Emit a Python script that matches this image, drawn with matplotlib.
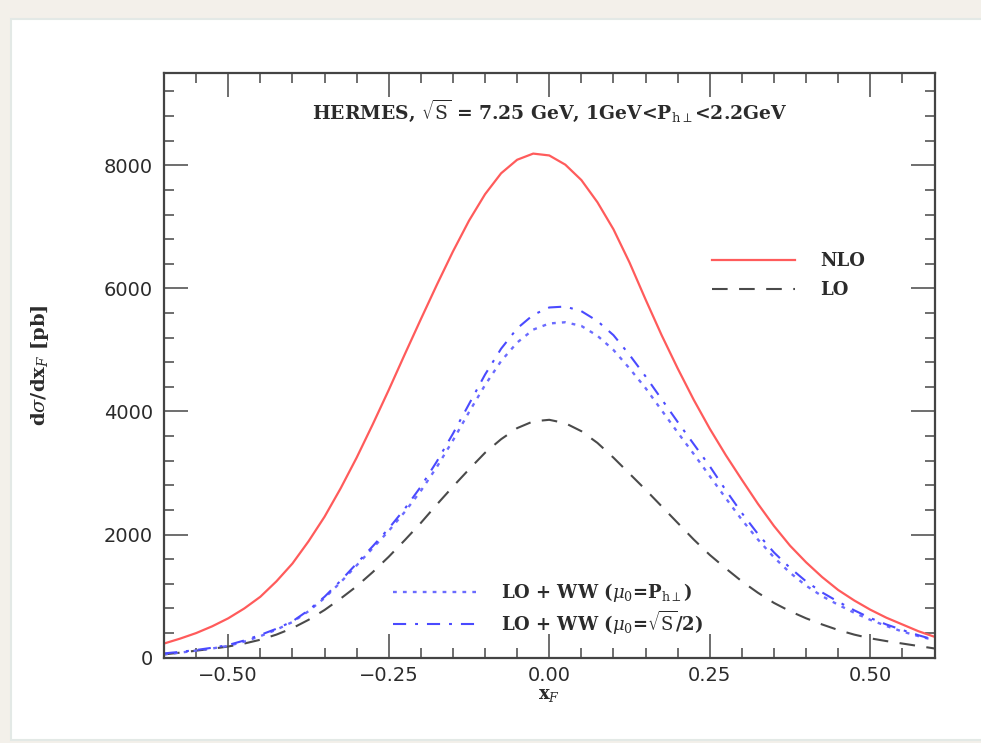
import matplotlib
matplotlib.use("Agg")
import matplotlib.pyplot as plt
from matplotlib.patches import Rectangle
from matplotlib.ticker import MultipleLocator, FixedFormatter, FixedLocator

plt.rcParams['mathtext.fontset'] = 'dejavuserif'

# x_F grid, step 0.025
xf = [-0.600, -0.575, -0.550, -0.525, -0.500, -0.475, -0.450, -0.425, -0.400,
      -0.375, -0.350, -0.325, -0.300, -0.275, -0.250, -0.225, -0.200,
      -0.175, -0.150, -0.125, -0.100, -0.075, -0.050, -0.025, 0.000,
      0.025, 0.050, 0.075, 0.100, 0.125, 0.150, 0.175, 0.200,
      0.225, 0.250, 0.275, 0.300, 0.325, 0.350, 0.375, 0.400,
      0.425, 0.450, 0.475, 0.500, 0.525, 0.550, 0.575, 0.600]

nlo = [230, 310, 400, 510, 640, 800, 990, 1240, 1530,
       1890, 2290, 2750, 3250, 3790, 4350, 4930, 5500,
       6060, 6600, 7100, 7530, 7870, 8090, 8190, 8160,
       8010, 7760, 7400, 6960, 6420, 5820, 5240, 4700,
       4190, 3720, 3290, 2890, 2500, 2140, 1820, 1550,
       1310, 1100, 930, 780, 650, 540, 430, 340]

lo = [54, 82, 114, 145, 182, 230, 292, 375, 480,
      615, 775, 960, 1160, 1390, 1640, 1910, 2190,
      2490, 2780, 3060, 3330, 3550, 3730, 3840, 3865,
      3810, 3680, 3490, 3250, 2990, 2730, 2460, 2190,
      1920, 1670, 1450, 1240, 1055, 890, 755, 640,
      540, 450, 375, 315, 270, 230, 190, 150]

ww_sqrt = [70, 95, 125, 162, 206, 280, 370, 470, 590,
           770, 990, 1250, 1530, 1810, 2100, 2420, 2780,
           3190, 3640, 4120, 4600, 5020, 5350, 5570, 5690,
           5705, 5630, 5470, 5240, 4920, 4570, 4200, 3830,
           3470, 3110, 2720, 2350, 2010, 1710, 1460, 1240,
           1060, 910, 770, 645, 540, 450, 365, 290]

ww_ph = [55, 82, 115, 150, 192, 262, 350, 455, 580,
         755, 970, 1225, 1500, 1780, 2060, 2370, 2710,
         3100, 3530, 3990, 4430, 4820, 5120, 5330, 5430,
         5450, 5390, 5230, 5000, 4700, 4380, 4020, 3660,
         3310, 2950, 2590, 2240, 1920, 1630, 1380, 1170,
         1000, 860, 730, 615, 515, 425, 350, 285]

xticks = [-0.50, -0.25, 0.00, 0.25, 0.50]
xlabels = ['\u22120.50', '\u22120.25', '0.00', '0.25', '0.50']
yticks = [0, 2000, 4000, 6000, 8000]

serif = 'DejaVu Serif'
txtcol = '#2b2b2b'

fig = plt.figure(figsize=(9.81, 7.43), dpi=100)
fig.patch.set_facecolor('#f3f0ea')
panel = Rectangle((11 / 981, 3 / 743), 1, 721 / 743, transform=fig.transFigure,
                  facecolor='white', edgecolor='#e3e9e6', lw=1.5, zorder=-5)
fig.add_artist(panel)

ax = fig.add_axes([0.1672, 0.1148, 0.7854, 0.787])
ax.set_facecolor('white')

l_nlo, = ax.plot(xf, nlo, color='#ff5b5b', lw=1.6)
l_lo, = ax.plot(xf, lo, color='#4a4a4a', lw=1.5, dashes=(7.5, 5.5))
l_ph, = ax.plot(xf, ww_ph, color='#6b6bff', lw=1.7, dashes=(1.6, 2.6))
l_sq, = ax.plot(xf, ww_sqrt, color='#4a4aff', lw=1.5, dashes=(6.3, 4.3, 1.4, 4.3))

ax.set_xlim(-0.6, 0.6)
ax.set_ylim(0, 9500)

ax.xaxis.set_major_locator(FixedLocator(xticks))
ax.xaxis.set_major_formatter(FixedFormatter(xlabels))
ax.xaxis.set_minor_locator(MultipleLocator(0.05))
ax.yaxis.set_major_locator(FixedLocator(yticks))
ax.yaxis.set_minor_locator(MultipleLocator(400))

ax.tick_params(which='both', direction='in', top=True, right=True, colors='#555555',
               labelcolor=txtcol, labelsize=14)
ax.tick_params(which='major', length=17, width=1.2)
ax.tick_params(which='minor', length=7, width=1.2)
ax.tick_params(axis='x', pad=6)
ax.tick_params(axis='y', pad=8)
for s in ax.spines.values():
    s.set_color('#444444')
    s.set_linewidth(1.6)

ax.set_xlabel(r'x$_F$', family=serif, fontsize=13, color=txtcol, labelpad=1, fontweight='bold')
ax.set_ylabel(r'd$\sigma$/dx$_F$ [pb]', family=serif, fontsize=14, color=txtcol, labelpad=38,
              fontweight='bold')

ax.text(0.5, 0.935, r'HERMES, $\sqrt{\rm S}$ = 7.25 GeV, 1GeV<P$_{\rm h\perp}$<2.2GeV',
        transform=ax.transAxes, ha='center', va='center', family=serif, fontsize=13.5,
        color=txtcol, fontweight='bold')

leg1 = ax.legend([l_nlo, l_lo], ['NLO', 'LO'], loc='center left',
                 bbox_to_anchor=(0.711, 0.653), frameon=False, borderpad=0, borderaxespad=0,
                 handlelength=4.6, handletextpad=1.4, labelspacing=0.6,
                 prop={'family': serif, 'size': 13, 'weight': 'bold'})
for t in leg1.get_texts():
    t.set_color(txtcol)
ax.add_artist(leg1)

leg2 = ax.legend([l_ph, l_sq], [r'LO + WW ($\mu_0$=P$_{\rm h\perp}$)', r'LO + WW ($\mu_0$=$\sqrt{\rm S}$/2)'],
                 loc='center left', bbox_to_anchor=(0.297, 0.0833), frameon=False,
                 borderpad=0, borderaxespad=0, handlelength=4.6, handletextpad=1.4,
                 labelspacing=0.25, prop={'family': serif, 'size': 13, 'weight': 'bold'})
for t in leg2.get_texts():
    t.set_color(txtcol)

fig.savefig('out.png', dpi=100, facecolor=fig.get_facecolor())
